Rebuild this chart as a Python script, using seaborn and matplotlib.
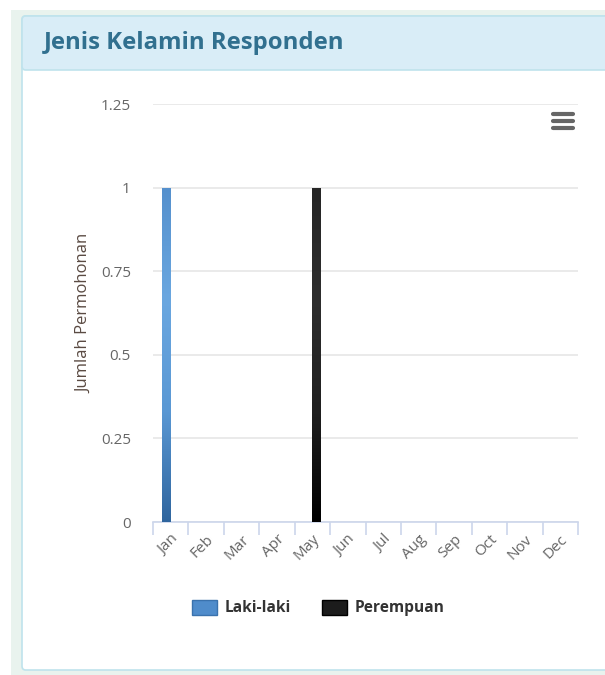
import numpy as np
import pandas as pd
import matplotlib
matplotlib.use("Agg")
import matplotlib.pyplot as plt
from matplotlib.patches import FancyBboxPatch, Rectangle, Patch
from matplotlib.lines import Line2D
from matplotlib.colors import LinearSegmentedColormap
import seaborn as sns

# data
months = ["Jan", "Feb", "Mar", "Apr", "May", "Jun",
          "Jul", "Aug", "Sep", "Oct", "Nov", "Dec"]
laki_laki = [1, 0, 0, 0, 0, 0, 0, 0, 0, 0, 0, 0]
perempuan = [0, 0, 0, 0, 1, 0, 0, 0, 0, 0, 0, 0]
series_names = ["Laki-laki", "Perempuan"]
y_ticks = [0, 0.25, 0.5, 0.75, 1, 1.25]
y_tick_labels = ["0", "0.25", "0.5", "0.75", "1", "1.25"]

df = pd.DataFrame({
    "bulan": months * 2,
    "jenis": [series_names[0]] * 12 + [series_names[1]] * 12,
    "jumlah": laki_laki + perempuan,
})

sns.set_style("white")
plt.rcParams["font.family"] = ["Open Sans", "DejaVu Sans"]

W, H = 605, 675
fig = plt.figure(figsize=(W / 100, H / 100), dpi=100)
fig.patch.set_facecolor("white")

def fx(px):
    return px / W

def fy(py):
    return 1 - py / H

# page / card background
fig.patches.append(Rectangle((fx(11), fy(675)), fx(594), (675 - 10) / H,
                             transform=fig.transFigure, facecolor="#e9f3ee",
                             edgecolor="none", zorder=0))
fig.patches.append(FancyBboxPatch((fx(22), fy(670)), fx(600), (670 - 16) / H,
                                  boxstyle="round,pad=0,rounding_size=0.006",
                                  transform=fig.transFigure, facecolor="white",
                                  edgecolor="#bfe3ec", linewidth=1.2, zorder=1))
fig.patches.append(FancyBboxPatch((fx(22), fy(70)), fx(600), (70 - 16) / H,
                                  boxstyle="round,pad=0,rounding_size=0.006",
                                  transform=fig.transFigure, facecolor="#d9edf7",
                                  edgecolor="#bfe3ec", linewidth=1.2, zorder=2))
fig.text(fx(44), fy(43), "Jenis Kelamin Responden", fontsize=17.2,
         fontweight="bold", color="#31708f", va="center", ha="left", zorder=3)

# hamburger menu icon
for yy in [114, 121, 128]:
    fig.lines.append(Line2D([fx(553), fx(573)], [fy(yy), fy(yy)],
                            transform=fig.transFigure, color="#666666",
                            linewidth=3, solid_capstyle="round", zorder=3))

ax = fig.add_axes([fx(153), fy(522), fx(578 - 153), (522 - 104) / H])
ax.set_zorder(4)
ax.patch.set_alpha(0)

palette = {"Laki-laki": "#4f8ccb", "Perempuan": "#1c1c1c"}
sns.barplot(data=df, x="bulan", y="jumlah", hue="jenis", order=months,
            hue_order=series_names, palette=palette, width=0.5,
            gap=0, saturation=1, legend=False, linewidth=0, ax=ax, zorder=3)

# vertical gradient on the bars
grads = {
    "Laki-laki": LinearSegmentedColormap.from_list(
        "b", ["#2f659e", "#5a98d4", "#6aa7e0", "#5590cd"]),
    "Perempuan": LinearSegmentedColormap.from_list(
        "k", ["#000000", "#202020", "#2e2e2e", "#262626"]),
}
grad_img = np.linspace(0, 1, 256).reshape(-1, 1)
for name, cont in zip(series_names, ax.containers):
    for bar in cont:
        h = bar.get_height()
        if h <= 0:
            bar.set_visible(False)
            continue
        x0 = bar.get_x()
        im = ax.imshow(grad_img, extent=[x0, x0 + bar.get_width(), 0, h],
                       origin="lower", aspect="auto", cmap=grads[name],
                       zorder=4)
        im.set_clip_path(bar)

ax.set_xlim(-0.5, 11.5)
ax.set_ylim(0, 1.25)
ax.set_yticks(y_ticks)
ax.set_yticklabels(y_tick_labels)
ax.yaxis.grid(True, color="#e6e6e6", linewidth=1.2)
ax.set_axisbelow(True)
for s in ["top", "right", "left"]:
    ax.spines[s].set_visible(False)
ax.spines["bottom"].set_color("#ccd6eb")
ax.spines["bottom"].set_linewidth(1.2)
ax.tick_params(axis="y", left=False, length=0, pad=16, labelsize=11,
               labelcolor="#666666")

# category boundary ticks like the original
ax.set_xticks(np.arange(-0.5, 12, 1), minor=True)
ax.tick_params(axis="x", which="minor", bottom=True, length=9, width=1.2,
               color="#ccd6eb")
ax.set_xticks(range(12))
ax.set_xticklabels(months, rotation=45, ha="right", rotation_mode="anchor")
ax.tick_params(axis="x", which="major", bottom=False, length=0, pad=7,
               labelsize=11, labelcolor="#666666")
ax.set_xlabel("")
ax.set_ylabel("Jumlah Permohonan", fontsize=12, color="#5a4a42", labelpad=6)

handles = [Patch(facecolor="#4f8ccb", edgecolor="#3a72ad"),
           Patch(facecolor="#1c1c1c", edgecolor="#000000")]
fig.legend(handles, series_names, loc="center", bbox_to_anchor=(fx(318), fy(608)),
           ncol=2, frameon=False, handlelength=1.6, handleheight=1.1,
           columnspacing=2.0, handletextpad=0.5,
           prop={"weight": "bold", "size": 11.2}, labelcolor="#333333")

fig.savefig("out.png", dpi=100)
